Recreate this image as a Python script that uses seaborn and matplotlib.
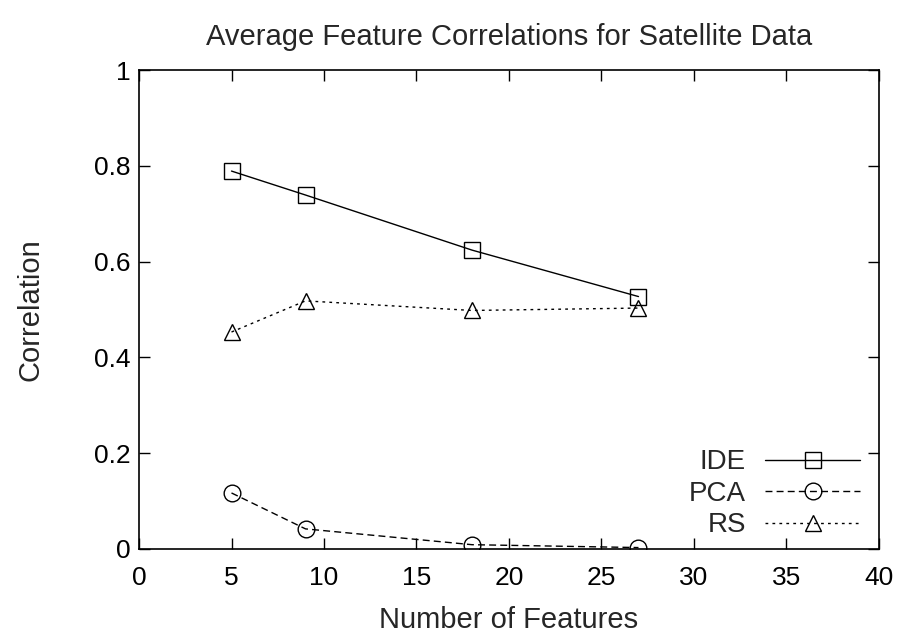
import numpy as np
import pandas as pd
import matplotlib
matplotlib.use("Agg")
import matplotlib.pyplot as plt
import seaborn as sns

features = [5, 9, 18, 27]
ide = [0.789, 0.739, 0.624, 0.527]
pca = [0.117, 0.042, 0.009, 0.003]
rs = [0.453, 0.518, 0.498, 0.503]

series = [("IDE", ide, "s", "-"),
          ("PCA", pca, "o", (0, (5, 3))),
          ("RS", rs, "^", (0, (2, 3)))]

sns.set_style("ticks")
plt.rcParams["font.family"] = ["Liberation Sans", "DejaVu Sans"]

fig = plt.figure(figsize=(9.19, 6.42), dpi=100)
ax = fig.add_axes([139 / 919, 93 / 642, 740 / 919, 479 / 642])

for name, vals, mk, ls in series:
    sns.lineplot(x=features, y=vals, ax=ax, color="black", linewidth=1.0,
                 linestyle=ls, marker=mk, markersize=12, markerfacecolor="none",
                 markeredgecolor="black", markeredgewidth=1.0, label=name)

ax.set_xlim(0, 40)
ax.set_ylim(0, 1)
ax.set_xticks(np.arange(0, 41, 5))
ax.set_yticks([0, 0.2, 0.4, 0.6, 0.8, 1])
ax.set_yticklabels(["0", "0.2", "0.4", "0.6", "0.8", "1"])
ax.tick_params(direction="in", length=8, width=1, labelsize=19,
               top=True, right=True, colors="black")
ax.tick_params(axis="x", pad=12)
ax.tick_params(axis="y", pad=6)
for s in ax.spines.values():
    s.set_linewidth(1.2)
    s.set_color("black")

ax.set_xlabel("Number of Features", fontsize=21, labelpad=12)
ax.set_ylabel("Correlation", fontsize=21, labelpad=36)
ax.set_title("Average Feature Correlations for Satellite Data", fontsize=21, pad=18)

ax.legend(loc="lower right", bbox_to_anchor=(0.974, 0.022), frameon=False,
          markerfirst=False, fontsize=20, handlelength=3.4, labelspacing=0.2,
          handletextpad=0.7, borderpad=0, borderaxespad=0)

fig.savefig("out.png", dpi=100)
